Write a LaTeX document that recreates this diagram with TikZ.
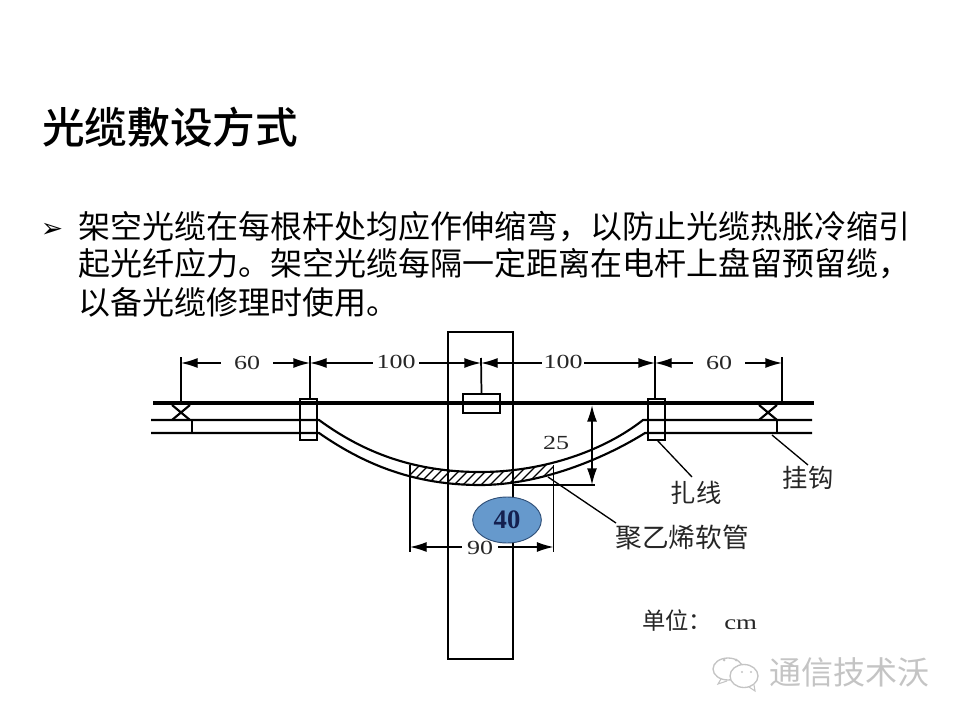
\documentclass[tikz,border=0pt]{standalone}
\usepackage{fontspec}
\usetikzlibrary{arrows.meta,shapes.geometric}
\setmainfont{Liberation Serif}
\newfontfamily\cjk{Noto Sans CJK SC}
\newfontfamily\cjkm{Noto Sans CJK SC Medium}
\newfontfamily\dejavu{DejaVu Sans}
\newfontfamily\dimf[FakeStretch=1.3]{Liberation Serif}
\definecolor{bubblefill}{HTML}{6699CC}
\definecolor{bubbletext}{HTML}{14204F}
\definecolor{bubbleedge}{HTML}{2F4F77}
\definecolor{wmark}{HTML}{C4C4C4}
\tikzset{
  x=0.75pt,y=-0.75pt,
  thick line/.style={line width=2.6pt},
  wire/.style={line width=1.6pt},
  thin line/.style={line width=1pt},
  ext/.style={line width=1.3pt},
  dimline/.style={line width=1pt,{Latex[length=12.5pt,width=7.5pt]}-{Latex[length=12.5pt,width=7.5pt]}},
  dimlabel/.style={fill=white,inner sep=0pt,font=\dimf\fontsize{15}{15}\selectfont,text=black!85,minimum height=11pt},
  lab/.style={inner sep=0pt,font=\cjk\fontsize{19}{19}\selectfont,text=black!85},
  body/.style={anchor=west,inner sep=0pt,font=\cjk\fontsize{24}{24}\selectfont,text=black},
  clampbox/.style={draw,line width=1.7pt,inner sep=0pt},
}
\begin{document}
\begin{tikzpicture}
\useasboundingbox (0,0) rectangle (960,720);
\fill[white] (0,0) rectangle (960,720);
% title and text
\node[anchor=west,inner sep=0pt,font=\cjkm\fontsize{32}{32}\selectfont] (title) at (42,127) {光缆敷设方式};
\node[inner sep=0pt,font=\dejavu\fontsize{20}{20}\selectfont] (bullet) at (52,230) {➢};
\node[body] (l1) at (78,227) {架空光缆在每根杆处均应作伸缩弯，以防止光缆热胀冷缩引};
\node[body] (l2) at (78,264) {起光纤应力。架空光缆每隔一定距离在电杆上盘留预留缆，};
\node[body] (l3) at (78,302) {以备光缆修理时使用。};
% coordinates
\coordinate (tl) at (153,403); \coordinate (tr) at (814,403);
\coordinate (ul) at (151,420); \coordinate (ur) at (812,420);
\coordinate (dl) at (151,433); \coordinate (dr) at (812,433);
\coordinate (ucl) at (319,420); \coordinate (ucr) at (643,420);
\coordinate (dcl) at (319,433); \coordinate (dcr) at (645,433);
\coordinate (um) at (480,472); \coordinate (dm) at (480,485);
% cable sag: hatching
\begin{scope}
\clip (410,440) rectangle (553.5,500);
\clip (ucl) .. controls (360,450) and (410,472) .. (um) .. controls (545,472) and (605,450) .. (ucr)
  -- (dcr) .. controls (610,455) and (545,485) .. (dm) .. controls (415,485) and (365,465) .. (dcl) -- cycle;
\foreach \i in {0,...,20} \draw[thin line] (390+\i*9,495) -- (425+\i*9,460);
\end{scope}
\draw[wire] (ul) -- (ucl) .. controls (360,450) and (410,472) .. (um) .. controls (545,472) and (605,450) .. (ucr) -- (ur);
\draw[wire] (dl) -- (dcl) .. controls (365,465) and (415,485) .. (dm) .. controls (545,485) and (610,455) .. (dcr) -- (dr);
% pole
\coordinate (poleTL) at (448,332); \coordinate (poleBR) at (513,659);
\draw[line width=2.2pt] (poleTL) rectangle (poleBR);
% clamps
\node[clampbox,minimum width=12.5pt,minimum height=31pt] (cl) at (308.5,419.5) {};
\node[clampbox,minimum width=12.5pt,minimum height=31pt] (cr) at (656.5,419.5) {};
\node[clampbox,minimum width=27.5pt,minimum height=14pt,fill=white] (cm) at (481.5,403.5) {};
\draw[thick line] (tl) -- (tr);
% hooks
\coordinate (xl1) at (172,405); \coordinate (xl2) at (190,420);
\coordinate (xl3) at (190,405); \coordinate (xl4) at (172,420);
\draw[wire] (xl1) -- (xl2) (xl3) -- (xl4);
\draw[wire] (192,420) -- (192,433);
\coordinate (xr1) at (759,405); \coordinate (xr2) at (777,420);
\coordinate (xr3) at (777,405); \coordinate (xr4) at (759,420);
\draw[wire] (xr1) -- (xr2) (xr3) -- (xr4);
\draw[wire] (777,420) -- (777,433);
% dimension lines
\coordinate (d1) at (181,363); \coordinate (d2) at (310,363); \coordinate (d3) at (481,363);
\coordinate (d4) at (655,363); \coordinate (d5) at (782,363);
\draw[ext] (181,357) -- (181,403);
\draw[ext] (310,356) -- (310,399);
\draw[ext] (481,358) -- (cm.north);
\draw[ext] (655,356) -- (655,399);
\draw[ext] (782,357) -- (782,403);
\draw[dimline] (d1) -- (d2); \draw[dimline] (d2) -- (d3); \draw[dimline] (d3) -- (d4); \draw[dimline] (d4) -- (d5);
\node[dimlabel,minimum width=39pt] (n60a) at (247,363) {60\hspace{6pt}};
\node[dimlabel,minimum width=34pt] (n100a) at (396,362) {100};
\node[dimlabel,minimum width=32pt] (n100b) at (563,362) {100};
\node[dimlabel,minimum width=39pt] (n60b) at (719,363) {60\hspace{6pt}};
% 25
\coordinate (h1) at (592,405); \coordinate (h2) at (592,485);
\draw[thin line] (513,485) -- (595,485);
\draw[dimline,line width=1.3pt] (h1) -- (h2);
\node[dimlabel,fill=none] (n25) at (556,443) {25};
% 90
\coordinate (w1) at (410,547); \coordinate (w2) at (553.5,547);
\draw[ext] (410,465) -- (410,552);
\draw[ext] (553.5,465) -- (553.5,552);
\draw[dimline] (w1) -- (w2);
\node[dimlabel,minimum width=27pt] (n90) at (480,548) {90};
% bubble
\node[ellipse,draw=bubbleedge,line width=.7pt,fill=bubblefill,minimum width=51.5pt,minimum height=34.5pt,inner sep=0pt,font=\fontsize{20}{20}\selectfont\bfseries,text=bubbletext] (b40) at (507,520) {\raisebox{-2pt}{40}};
% leaders and labels
\coordinate (la1) at (657,440); \coordinate (la2) at (692,477);
\coordinate (lb1) at (772,435); \coordinate (lb2) at (808,465);
\coordinate (lc1) at (548,477); \coordinate (lc2) at (616,523);
\draw[thin line] (la1) -- (la2); \draw[thin line] (lb1) -- (lb2); \draw[thin line] (lc1) -- (lc2);
\node[lab] (t1) at (696,493) {扎线};
\node[lab] (t2) at (808,478) {挂钩};
\node[lab,font=\cjk\fontsize{20}{20}\selectfont] (t3) at (682,537) {聚乙烯软管};
\node[lab,anchor=west,font=\cjk\fontsize{17.5}{17.5}\selectfont] (t4) at (642,621) {单位：\hspace{9pt}{\dimf\fontsize{15.5}{15.5}\selectfont cm}};
% watermark
\node[anchor=west,inner sep=0pt,text=wmark,font=\cjk\fontsize{24}{24}\selectfont] (wm) at (769,672) {通信技术沃};
\draw[wmark,line width=1pt] (728,669) ellipse (15 and 11);
\draw[wmark,line width=.8pt] (721,679) -- (718,684) -- (727,681);
\draw[wmark,line width=1pt,fill=white] (744,676) ellipse (14 and 11.5);
\draw[wmark,line width=.8pt] (749,687) -- (755,691) -- (754,685);
\fill[wmark] (724,660) circle (1.5) (736,660) circle (1.5) (742,672) circle (1.2) (751,672) circle (1.2);
\end{tikzpicture}
\end{document}
